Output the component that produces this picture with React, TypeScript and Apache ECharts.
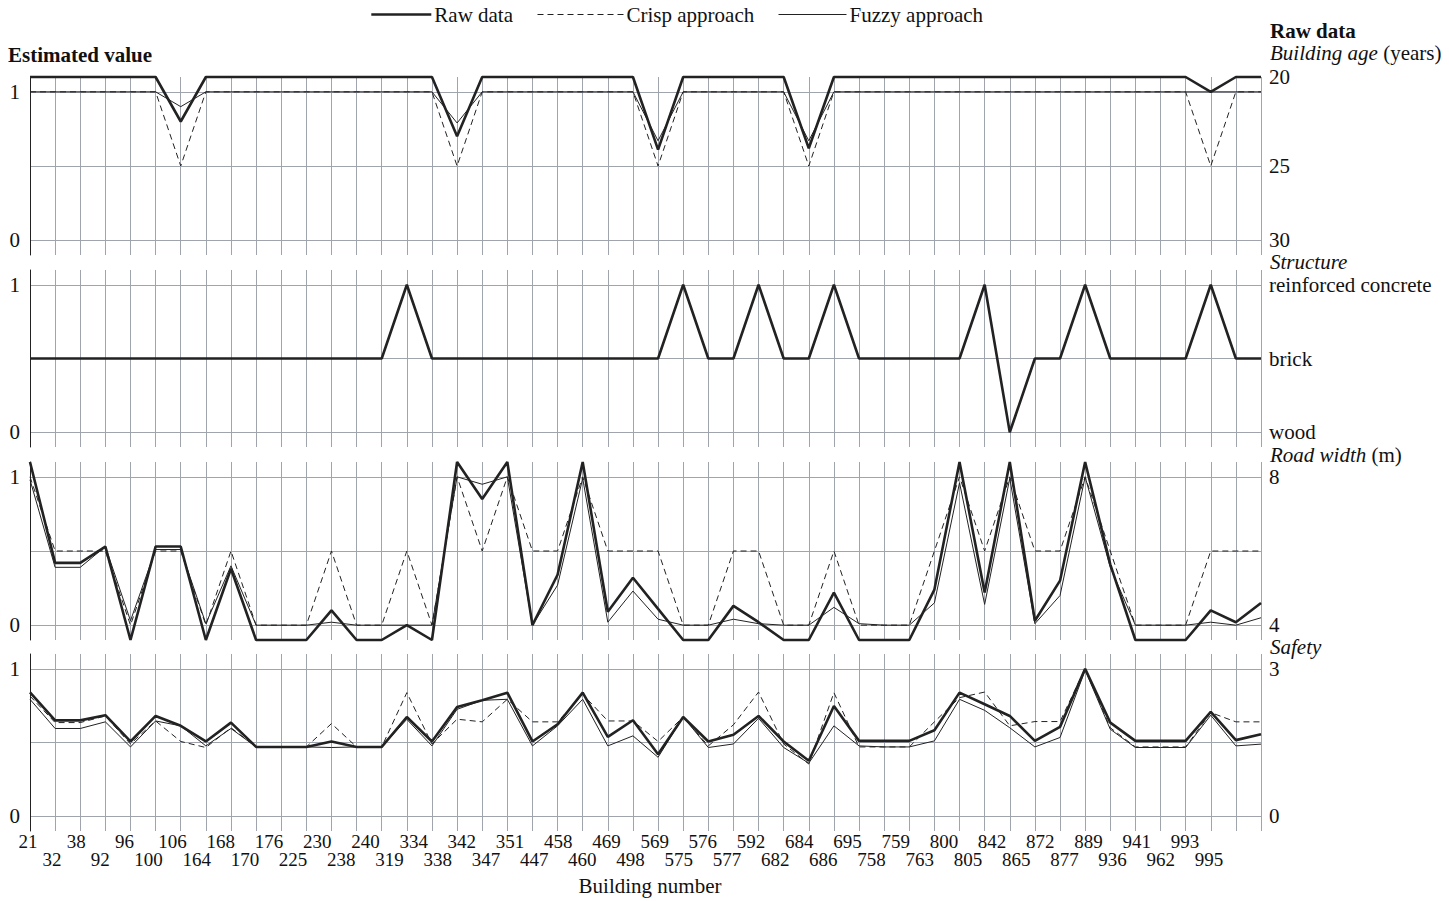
import React, { useEffect, useRef } from 'react';
import * as echarts from 'echarts';

// Building numbers (x categories)
const buildings = ['21','32','38','92','96','100','106','164','168','170','176','225','230','238','240','319','334','338','342','347','351','447','458','460','469','498','569','575','576','577','592','682','684','686','695','758','759','763','800','805','842','865','872','877','889','936','941','962','993','995'];

// Building age panel (estimated value scale; raw plotted at its own position, 20 years at top)
const ageRaw = [1.1,1.1,1.1,1.1,1.1,1.1,0.80,1.1,1.1,1.1, 1.1,1.1,1.1,1.1,1.1,1.1,1.1,0.70,1.1,1.1, 1.1,1.1,1.1,1.1,1.1,0.61,1.1,1.1,1.1,1.1, 1.1,0.62,1.1,1.1,1.1,1.1,1.1,1.1,1.1,1.1, 1.1,1.1,1.1,1.1,1.1,1.1,1.1,1.0,1.1,1.1];
const ageCrisp = [1,1,1,1,1,1,0.5,1,1,1, 1,1,1,1,1,1,1,0.5,1,1, 1,1,1,1,1,0.5,1,1,1,1, 1,0.5,1,1,1,1,1,1,1,1, 1,1,1,1,1,1,1,0.5,1,1];
const ageFuzzy = [1,1,1,1,1,1,0.90,1,1,1, 1,1,1,1,1,1,1,0.79,1,1, 1,1,1,1,1,0.67,1,1,1,1, 1,0.67,1,1,1,1,1,1,1,1, 1,1,1,1,1,1,1,1,1,1];

// Structure panel
const structRaw = [0.5,0.5,0.5,0.5,0.5,0.5,0.5,0.5,0.5,0.5, 0.5,0.5,0.5,0.5,0.5,1,0.5,0.5,0.5,0.5, 0.5,0.5,0.5,0.5,0.5,0.5,1,0.5,0.5,1, 0.5,0.5,1,0.5,0.5,0.5,0.5,0.5,1,0, 0.5,0.5,1,0.5,0.5,0.5,0.5,1,0.5,0.5];

// Road width panel
const roadRaw = [1.1,0.42,0.42,0.53,-0.1,0.53,0.53,-0.1,0.38,-0.1, -0.1,-0.1,0.1,-0.1,-0.1,0,-0.1,1.1,0.85,1.1, 0,0.34,1.1,0.09,0.32,0.11,-0.1,-0.1,0.13,0.02, -0.1,-0.1,0.22,-0.1,-0.1,-0.1,0.24,1.1,0.22,1.1, 0.03,0.3,1.1,0.41,-0.1,-0.1,-0.1,0.1,0.02,0.15];
const roadCrisp = [1,0.5,0.5,0.5,0,0.5,0.5,0,0.5,0, 0,0,0.5,0,0,0.5,0,1,0.5,1, 0.5,0.5,1,0.5,0.5,0.5,0,0,0.5,0.5, 0,0,0.5,0,0,0,0.5,1,0.5,1, 0.5,0.5,1,0.5,0,0,0,0.5,0.5,0.5];
const roadFuzzy = [0.98,0.39,0.39,0.53,0.03,0.51,0.51,0.01,0.4,0, 0,0,0.02,0,0,0,0,1.0,0.95,1.0, 0,0.27,0.99,0.02,0.23,0.04,0,0,0.04,0.01, 0,0,0.12,0.01,0,0,0.15,0.96,0.14,0.99, 0.01,0.2,1.0,0.39,0,0,0,0.02,0,0.05];

// Safety panel
const safetyRaw = [0.84,0.65,0.65,0.685,0.507,0.68,0.613,0.507,0.635,0.47, 0.47,0.47,0.507,0.47,0.47,0.673,0.507,0.741,0.786,0.838, 0.507,0.624,0.838,0.538,0.651,0.421,0.673,0.507,0.552,0.68, 0.507,0.376,0.748,0.511,0.511,0.511,0.583,0.838,0.759,0.68, 0.511,0.606,1.0,0.635,0.511,0.511,0.511,0.707,0.516,0.556];
const safetyCrisp = [0.815,0.635,0.635,0.68,0.49,0.646,0.507,0.466,0.6,0.47, 0.47,0.47,0.628,0.47,0.47,0.838,0.49,0.658,0.64,0.793, 0.64,0.64,0.827,0.646,0.646,0.507,0.673,0.477,0.62,0.842, 0.49,0.354,0.838,0.47,0.47,0.47,0.64,0.804,0.842,0.613, 0.642,0.642,1.0,0.6,0.47,0.47,0.47,0.703,0.64,0.64];
const safetyFuzzy = [0.793,0.595,0.595,0.64,0.47,0.646,0.613,0.477,0.595,0.47, 0.47,0.47,0.466,0.47,0.47,0.657,0.477,0.725,0.786,0.793, 0.477,0.613,0.793,0.477,0.545,0.4,0.673,0.466,0.49,0.664, 0.466,0.36,0.613,0.477,0.47,0.47,0.511,0.793,0.718,0.6, 0.47,0.534,0.99,0.59,0.466,0.466,0.466,0.685,0.477,0.489];

// Tick labels
const leftTickValues = [0, 1];
const gridTickValues = [0, 0.5, 1];
const ageTickLabels = ['30', '25', '20'];
const ageTickValues = [0, 0.5, 1.1];
const structTickLabels = ['wood', 'brick', 'reinforced concrete'];
const structTickValues = [0, 0.5, 1];
const roadTickLabels = ['4', '8'];
const roadTickValues = [0, 1];
const safetyTickLabels = ['0', '3'];
const safetyTickValues = [0, 1];

const FONT = "'Liberation Serif', 'DejaVu Serif', serif";
const GRID_COLOR = '#a0a5ad';
const INK = '#111';

const panelTops = [77, 270, 462, 654];
const panelHeights = [178, 177, 178, 177];

function buildOption() {
  const grids: any[] = panelTops.map((t, i) => ({ left: 30, right: 188, top: t, height: panelHeights[i] }));
  grids.push({ left: 28, right: 240, top: 800, height: 31 });

  const xAxes: any[] = [0, 1, 2, 3].map((g) => ({
    type: 'category',
    gridIndex: g,
    data: buildings,
    boundaryGap: false,
    axisLine: { show: false },
    axisTick: { show: false, interval: 0 },
    axisLabel: { show: false, interval: 0 },
    splitLine: { show: true, interval: 0, lineStyle: { color: GRID_COLOR, width: 1 } },
  }));
  const labelAxisBase = {
    type: 'category',
    gridIndex: 4,
    data: buildings,
    boundaryGap: false,
    position: 'bottom',
    axisLine: { show: false },
    axisTick: { show: false },
    splitLine: { show: false },
  };
  xAxes.push({
    ...labelAxisBase,
    axisLabel: { interval: (i: number) => i % 2 === 0, margin: 2, fontSize: 19, lineHeight: 17, fontFamily: FONT, color: INK },
  });
  xAxes.push({
    ...labelAxisBase,
    axisLabel: { interval: (i: number) => i % 2 === 1, margin: 20, fontSize: 19, lineHeight: 17, fontFamily: FONT, color: INK },
  });

  const leftAxes: any[] = [0, 1, 2, 3].map((g) => ({
    type: 'value',
    gridIndex: g,
    position: 'left',
    min: -0.1,
    max: 1.1,
    axisLine: { show: true, lineStyle: { color: '#222', width: 1 } },
    axisTick: { show: false, customValues: gridTickValues },
    axisLabel: { show: true, customValues: leftTickValues, margin: 10, fontSize: 21, lineHeight: 18, fontFamily: FONT, color: INK },
    splitLine: { show: true, lineStyle: { color: GRID_COLOR, width: 1 } },
  }));
  const rightDefs = [
    [ageTickValues, ageTickLabels],
    [structTickValues, structTickLabels],
    [roadTickValues, roadTickLabels],
    [safetyTickValues, safetyTickLabels],
  ];
  const rightAxes: any[] = rightDefs.map(([vals, labs]: any, g) => ({
    type: 'value',
    gridIndex: g,
    position: 'right',
    min: -0.1,
    max: 1.1,
    axisLine: { show: false },
    axisTick: { show: false, customValues: vals },
    splitLine: { show: false },
    axisLabel: {
      show: true,
      customValues: vals,
      margin: 8,
      fontSize: 21,
      lineHeight: 18,
      fontFamily: FONT,
      color: INK,
      formatter: (v: number) => {
        const k = vals.findIndex((p: number) => Math.abs(p - v) < 1e-6);
        return k >= 0 ? labs[k] : '';
      },
    },
  }));
  const yAxes = [...leftAxes, ...rightAxes, { type: 'value', gridIndex: 4, show: false, min: 0, max: 1 }];

  const rawStyle = { width: 2.6, color: '#222' };
  const crispStyle = { width: 1, color: '#222', type: [6, 4] };
  const fuzzyStyle = { width: 1, color: '#222' };
  const mk = (name: string, data: number[], g: number, ls: any, z: number) => ({
    name,
    type: 'line',
    xAxisIndex: g,
    yAxisIndex: g,
    data,
    symbol: 'none',
    showSymbol: false,
    clip: false,
    silent: true,
    z,
    lineStyle: ls,
    itemStyle: { color: '#222' },
    emphasis: { disabled: true },
  });

  const series = [
    mk('Crisp approach', ageCrisp, 0, crispStyle, 2),
    mk('Fuzzy approach', ageFuzzy, 0, fuzzyStyle, 3),
    mk('Raw data', ageRaw, 0, rawStyle, 4),
    mk('Raw data', structRaw, 1, rawStyle, 4),
    mk('Crisp approach', roadCrisp, 2, crispStyle, 2),
    mk('Fuzzy approach', roadFuzzy, 2, fuzzyStyle, 3),
    mk('Raw data', roadRaw, 2, rawStyle, 4),
    mk('Crisp approach', safetyCrisp, 3, crispStyle, 2),
    mk('Fuzzy approach', safetyFuzzy, 3, fuzzyStyle, 3),
    mk('Raw data', safetyRaw, 3, rawStyle, 4),
  ];

  const legendBase = {
    top: 4,
    padding: 0,
    itemHeight: 14,
    selectedMode: false,
    itemStyle: { opacity: 0, borderWidth: 0 },
    textStyle: { fontSize: 21, fontFamily: FONT, color: INK, padding: [0, 0, 0, -2] },
  };
  const legend = [
    { ...legendBase, left: 370, itemWidth: 60, data: ['Raw data'], lineStyle: { width: 2.6, color: '#222' } },
    { ...legendBase, left: 537, itemWidth: 86, data: ['Crisp approach'], lineStyle: { width: 1, color: '#222', type: [6, 4] } },
    { ...legendBase, left: 778, itemWidth: 68, data: ['Fuzzy approach'], lineStyle: { width: 1, color: '#222' } },
  ];

  const txt = (text: string, x: number, y: number, extra: any = {}) => ({
    type: 'text',
    x,
    y,
    silent: true,
    style: {
      text,
      fontSize: 21,
      lineHeight: 18,
      fontFamily: FONT,
      fill: INK,
      verticalAlign: 'middle',
      ...extra,
    },
  });
  const italicRich = { i: { fontStyle: 'italic', fontSize: 21, lineHeight: 18, fontFamily: FONT, fill: INK } };
  const graphic = [
    txt('Estimated value', 8, 55, { fontWeight: 'bold' }),
    txt('Raw data', 1270, 31, { fontWeight: 'bold' }),
    txt('{i|Building age} (years)', 1270, 53, { rich: italicRich }),
    txt('{i|Structure}', 1270, 262, { rich: italicRich }),
    txt('{i|Road width} (m)', 1270, 455, { rich: italicRich }),
    txt('{i|Safety}', 1270, 647, { rich: italicRich }),
    txt('Building number', 650, 886, { align: 'center' }),
  ];

  return {
    animation: false,
    backgroundColor: '#ffffff',
    textStyle: { fontFamily: FONT },
    grid: grids,
    xAxis: xAxes,
    yAxis: yAxes,
    legend,
    series,
    graphic,
  };
}

export default function App() {
  const ref = useRef<HTMLDivElement>(null);
  useEffect(() => {
    if (!ref.current) return;
    const chart = echarts.init(ref.current, null, { renderer: 'svg' });
    chart.setOption(buildOption() as any);
    return () => chart.dispose();
  }, []);
  return (
    <div
      ref={ref}
      style={{ position: 'fixed', left: 0, top: 0, width: 1449, height: 901, background: '#fff' }}
    />
  );
}
